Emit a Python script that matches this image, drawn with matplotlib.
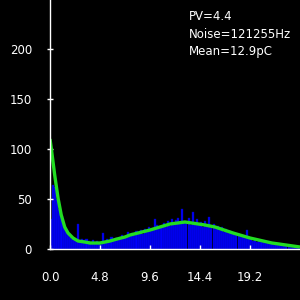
import numpy as np
import matplotlib.pyplot as plt

# histogram: bins of width 0.2 from 0 to 24
bin_width = 0.2
counts = [30, 64, 62, 50, 40, 33, 22, 18, 16, 12,
          10, 9, 8, 25, 8, 10, 9, 10, 8, 7,
          9, 6, 8, 5, 7, 16, 8, 10, 7, 12,
          9, 11, 9, 12, 14, 11, 13, 17, 13, 16,
          14, 18, 15, 19, 15, 20, 17, 22, 18, 21,
          30, 24, 20, 22, 26, 22, 28, 23, 30, 24,
          29, 31, 25, 40, 28, 26, 31, 24, 37, 27,
          30, 24, 27, 22, 28, 23, 32, 21, 25, 20,
          23, 19, 22, 17, 20, 16, 18, 15, 16, 14,
          15, 12, 14, 11, 19, 10, 11, 8, 10, 7,
          9, 7, 8, 6, 7, 5, 6, 4, 5, 4,
          4, 3, 4, 3, 3, 2, 2, 2, 1, 1]

# fitted curve
fit_x = [0.0, 0.12, 0.45, 0.77, 1.08, 1.41, 1.73, 2.21, 2.69, 3.33, 3.84, 4.8,
         5.76, 6.43, 7.2, 7.68, 9.6, 11.52, 12.96, 14.88, 15.84, 17.57, 19.2,
         21.3, 24.0]
fit_y = [110, 101, 74, 51, 34, 22, 16, 11, 8, 7, 6, 6,
         8, 10, 12, 14, 19, 25, 27, 24, 22, 16, 11,
         6, 2]

info = ["PV=4.4", "Noise=121255Hz", "Mean=12.9pC"]
xticks = [0.0, 4.8, 9.6, 14.4, 19.2]
yticks = [0, 50, 100, 150, 200]

fig = plt.figure(figsize=(3, 3), dpi=100, facecolor='black')
ax = fig.add_axes([50/300, 51/300, 250/300, 249/300])
ax.set_facecolor('black')

edges = np.arange(len(counts)) * bin_width
ax.bar(edges, counts, width=bin_width, align='edge', color='#0000ff',
       edgecolor='#0000a8', linewidth=0.3)
ax.plot(fit_x, fit_y, color='#22dd22', linewidth=2.4, solid_capstyle='butt')

ax.set_xlim(0, 24)
ax.set_ylim(0, 249)
ax.set_xticks(xticks)
ax.set_xticklabels([f'{v:.1f}' for v in xticks])
ax.set_yticks(yticks)
ax.tick_params(axis='x', direction='in', length=3, width=1, colors='white',
               labelsize=8.5, pad=16)
ax.tick_params(axis='y', direction='inout', length=4, width=1, colors='white',
               labelsize=8.5, pad=11)
for s in ['top', 'right']:
    ax.spines[s].set_visible(False)
for s in ['left', 'bottom']:
    ax.spines[s].set_color('white')
    ax.spines[s].set_linewidth(1)

for i, t in enumerate(info):
    fig.text(189/300, 1 - (16 + 18*i)/300, t, color='white', fontsize=8.5,
             va='center', ha='left')

fig.savefig('out.png', dpi=100, facecolor='black')
